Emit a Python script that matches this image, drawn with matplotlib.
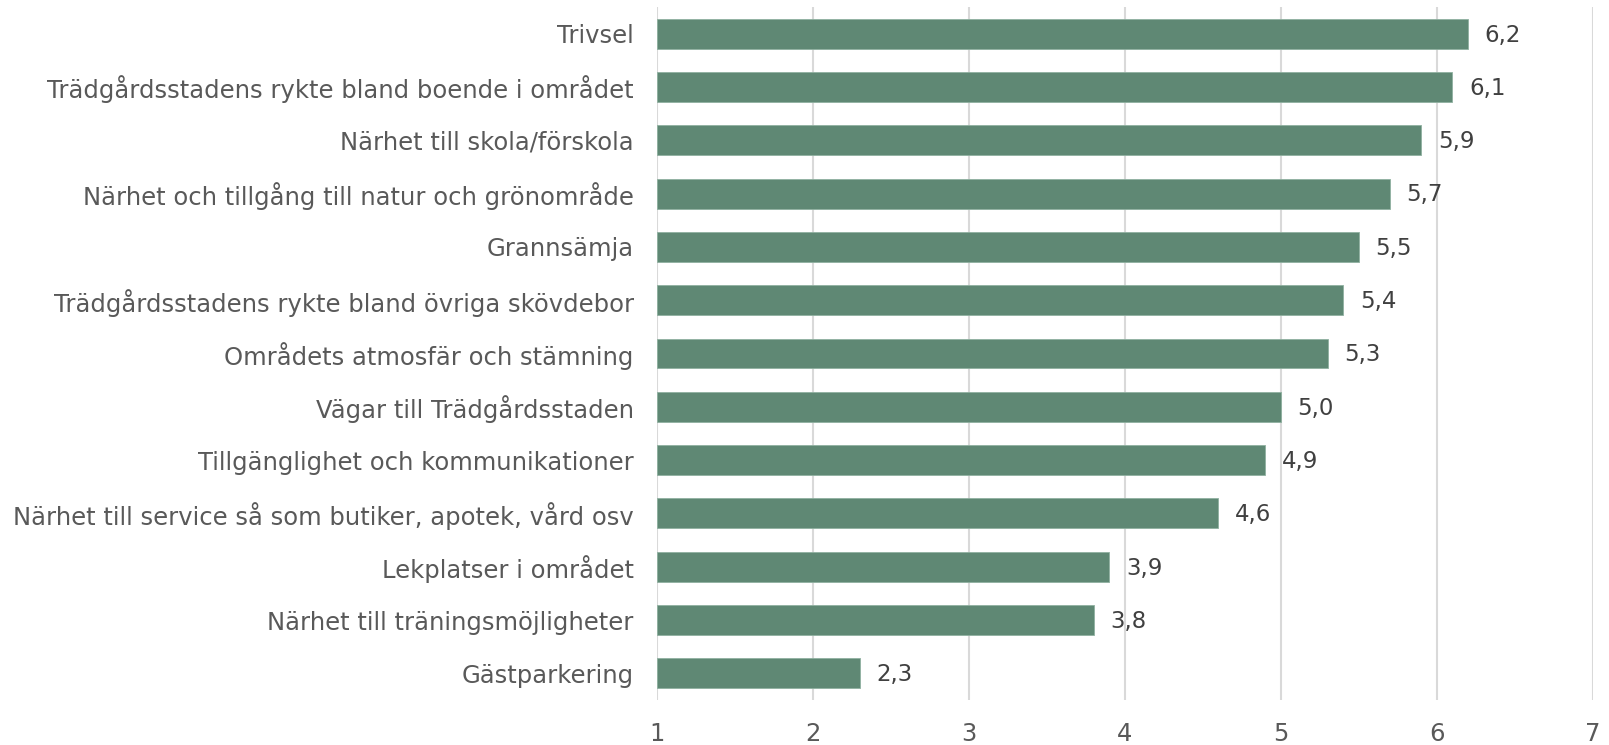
import matplotlib
matplotlib.use("Agg")
import matplotlib.pyplot as plt

categories = [
    "Trivsel",
    "Trädgårdsstadens rykte bland boende i området",
    "Närhet till skola/förskola",
    "Närhet och tillgång till natur och grönområde",
    "Grannsämja",
    "Trädgårdsstadens rykte bland övriga skövdebor",
    "Områdets atmosfär och stämning",
    "Vägar till Trädgårdsstaden",
    "Tillgänglighet och kommunikationer",
    "Närhet till service så som butiker, apotek, vård osv",
    "Lekplatser i området",
    "Närhet till träningsmöjligheter",
    "Gästparkering",
]
values = [6.2, 6.1, 5.9, 5.7, 5.5, 5.4, 5.3, 5.0, 4.9, 4.6, 3.9, 3.8, 2.3]
x_ticks = [1, 2, 3, 4, 5, 6, 7]

plt.rcParams['font.family'] = ['DejaVu Sans']

fig = plt.figure(figsize=(16.09, 7.45), dpi=100)
ax = fig.add_axes([0.4085, 0.0604, 0.9898 - 0.4085, 0.9906 - 0.0604])

ypos = list(range(len(categories)))
base = x_ticks[0]
widths = [v - base for v in values]
ax.barh(ypos, widths, left=base, height=0.56, color="#5F8874",
        edgecolor="#8FB0A0", linewidth=0.6, zorder=3)

for y, v in zip(ypos, values):
    ax.annotate(f"{v:.1f}".replace(".", ","), xy=(v, y), xytext=(12, -1),
                textcoords="offset points", va="center", ha="left",
                fontsize=16.5, color="#404040")

ax.set_xlim(x_ticks[0], x_ticks[-1])
ax.set_ylim(len(categories) - 0.5, -0.5)
ax.set_xticks(x_ticks)
ax.set_xticklabels([str(t) for t in x_ticks])
ax.set_yticks(ypos)
ax.set_yticklabels(categories)
ax.tick_params(axis="both", length=0, labelsize=17.5, labelcolor="#595959")
ax.tick_params(axis="x", pad=15.5)
ax.tick_params(axis="y", pad=17)
ax.grid(axis="x", color="#D9D9D9", linewidth=1.5, zorder=0)
for s in ax.spines.values():
    s.set_visible(False)

fig.savefig("out.png", dpi=100)
